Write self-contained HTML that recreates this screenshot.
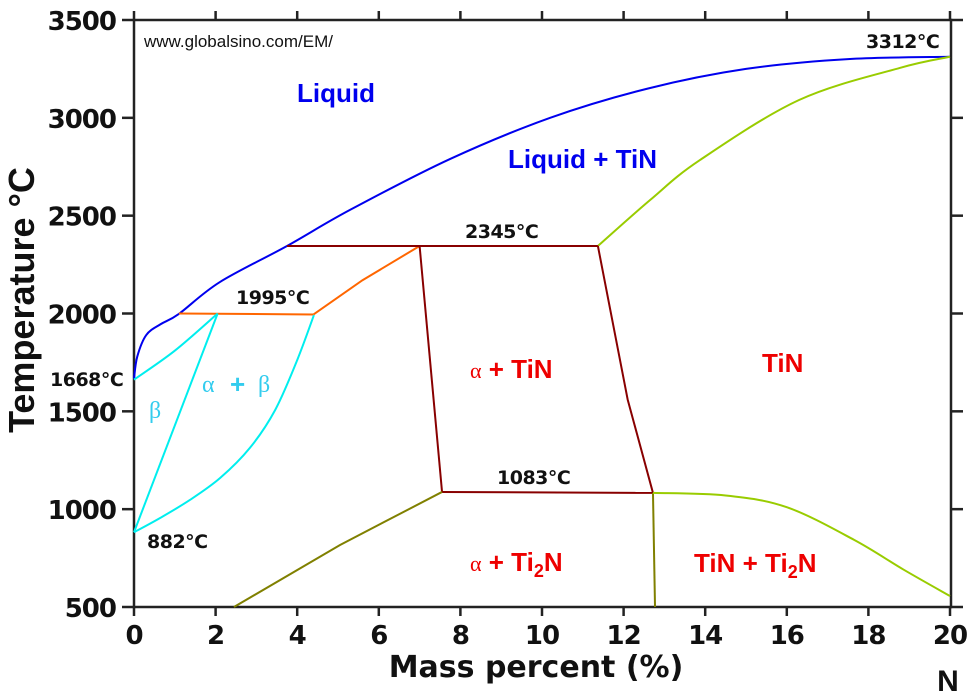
<!DOCTYPE html>
<html><head><meta charset="utf-8"><style>
body{margin:0;background:#fff}
svg{display:block}
.tk{font:bold 26px "DejaVu Sans",sans-serif;fill:#111;letter-spacing:-1px}
.an{font:bold 19px "DejaVu Sans",sans-serif;fill:#111;letter-spacing:-0.5px}
.rg{font:bold 26px "Liberation Sans",sans-serif}
</style></head><body>
<svg id="c" width="974" height="700" viewBox="0 0 974 700" xmlns="http://www.w3.org/2000/svg">
<g id="grid"></g>
<g id="curves"></g>
<text x="144" y="47" font-family="Liberation Sans,sans-serif" font-size="17" fill="#111">www.globalsino.com/EM/</text>
<text class="rg" x="297" y="102" fill="#0000ee">Liquid</text>
<text class="rg" x="508" y="168" fill="#0000ee">Liquid + TiN</text>
<text class="rg" x="762" y="372" fill="#ee0000">TiN</text>
<text class="rg" x="470" y="378" fill="#ee0000"><tspan font-family="Liberation Serif,serif" font-weight="normal" font-size="22">α</tspan>  + TiN</text>
<text class="rg" x="470" y="571" fill="#ee0000"><tspan font-family="Liberation Serif,serif" font-weight="normal" font-size="22">α</tspan>  + Ti<tspan font-size="18" dy="6">2</tspan><tspan dy="-6">N</tspan></text>
<text class="rg" x="694" y="572" fill="#ee0000">TiN + Ti<tspan font-size="18" dy="6">2</tspan><tspan dy="-6">N</tspan></text>
<text x="149" y="418" font-family="Liberation Serif,serif" font-size="24" fill="#33ccee">β</text>
<g fill="#33ccee">
<text x="202" y="392" font-family="Liberation Serif,serif" font-size="24">α</text>
<text x="230" y="393" font-family="Liberation Sans,sans-serif" font-weight="bold" font-size="26">+</text>
<text x="258" y="392" font-family="Liberation Serif,serif" font-size="24">β</text>
</g>
<text class="an" x="866" y="48">3312°C</text>
<text class="an" x="465" y="238">2345°C</text>
<text class="an" x="236" y="304">1995°C</text>
<text class="an" x="50" y="386">1668°C</text>
<text class="an" x="147" y="548">882°C</text>
<text class="an" x="497" y="484">1083°C</text>
<text x="536" y="677" text-anchor="middle" font-family="DejaVu Sans,sans-serif" font-weight="bold" font-size="30" fill="#111">Mass percent (%)</text>
<text x="948" y="691" text-anchor="middle" font-family="Liberation Sans,sans-serif" font-weight="bold" font-size="30" fill="#111">N</text>
<text transform="translate(34,300) rotate(-90)" text-anchor="middle" font-family="Liberation Sans,sans-serif" font-weight="bold" font-size="36" fill="#111">Temperature °C</text>
</svg>
<script>
const xTicks=[0,2,4,6,8,10,12,14,16,18,20];
const yTicks=[500,1000,1500,2000,2500,3000,3500];
const liquidus=[[0,1668],[0.08,1780],[0.3,1890],[0.65,1945],[1.1,1998],[2.1,2160],[3.75,2345],[5.3,2530],[7.75,2790],[10.2,3000],[12.6,3150],[15,3250],[17.5,3300],[20,3312]];
const tinLiquidus=[[11.37,2345],[12.65,2580],[13.87,2784],[16.3,3091],[18.77,3255],[20,3312]];
const peritectic1995=[[1.1,2000],[4.4,1995]];
const orangeBound=[[4.4,1995],[5.6,2170],[7.0,2345]];
const peritectic2345=[[3.75,2345],[11.37,2345]];
const alphaTinLeft=[[7.0,2345],[7.55,1088]];
const line1083=[[7.55,1088],[12.72,1083]];
const tinLeft=[[11.37,2345],[12.1,1560],[12.72,1083]];
const betaSolidus=[[0,1662],[1.0,1810],[2.05,2000]];
const betaTransus=[[0,882],[2.05,2000]];
const alphaBetaBound=[[0,882],[0.64,955],[1.37,1047],[2.11,1159],[2.84,1313],[3.46,1507],[4.0,1762],[4.41,1992]];
const ti2nLeft=[[2.45,500],[5.05,817],[7.55,1088]];
const ti2nRight=[[12.72,1083],[12.77,500]];
const tinTi2n=[[12.72,1083],[14.5,1070],[16,1010],[17.65,843],[18.87,690],[20,556]];
const X=v=>134+v*40.8;
const Y=t=>607-(t-500)*(587/3000);
const NS='http://www.w3.org/2000/svg';
function mk(tag,attrs,parent){const e=document.createElementNS(NS,tag);for(const k in attrs)e.setAttribute(k,attrs[k]);parent.appendChild(e);return e;}
const g=document.getElementById('grid');
const frame=mk('rect',{x:134,y:20,width:817,height:587,fill:'none',stroke:'#222','stroke-width':2.5},g);


xTicks.forEach(v=>{
 const b=mk('line',{x1:X(v),x2:X(v),y1:607,y2:616,stroke:'#222','stroke-width':2.5},g);
 
 
 const t=mk('line',{x1:X(v),x2:X(v),y1:20,y2:11,stroke:'#222','stroke-width':2.5},g);
 
 
 const l=mk('text',{x:X(v),y:644,'text-anchor':'middle',class:'tk'},g);
 l.textContent=v;
 
 
});
yTicks.forEach(v=>{
 const a=mk('line',{x1:122,x2:134,y1:Y(v),y2:Y(v),stroke:'#222','stroke-width':2.5},g);
 
 
 const r=mk('line',{x1:951,x2:963,y1:Y(v),y2:Y(v),stroke:'#222','stroke-width':2.5},g);
 
 
 const l=mk('text',{x:116,y:Y(v)+10,'text-anchor':'end',class:'tk'},g);
 l.textContent=v;
 
 
});
const cg=document.getElementById('curves');
function draw(pts,color,name,smooth){
 let d='M'+X(pts[0][0])+','+Y(pts[0][1]);
 if(smooth&&pts.length>2){
  for(let i=0;i<pts.length-1;i++){
   const p0=pts[Math.max(0,i-1)],p1=pts[i],p2=pts[i+1],p3=pts[Math.min(pts.length-1,i+2)];
   const c1x=X(p1[0])+(X(p2[0])-X(p0[0]))/6,c1y=Y(p1[1])+(Y(p2[1])-Y(p0[1]))/6;
   const c2x=X(p2[0])-(X(p3[0])-X(p1[0]))/6,c2y=Y(p2[1])-(Y(p3[1])-Y(p1[1]))/6;
   d+=' C'+c1x+','+c1y+' '+c2x+','+c2y+' '+X(p2[0])+','+Y(p2[1]);
  }
 } else pts.slice(1).forEach(p=>d+=' L'+X(p[0])+','+Y(p[1]));
 const e=mk('path',{d:d,fill:'none',stroke:color,'stroke-width':2},cg);
 
 
}
draw(liquidus,'#0000ee','liquidus-line',true);
draw(tinLiquidus,'#99cc00','tin-liquidus-line',true);
draw(peritectic1995,'#ff6600','peritectic-1995-line',false);
draw(orangeBound,'#ff6600','beta-liquid-boundary',false);
draw(peritectic2345,'#880000','peritectic-2345-line',false);
draw(alphaTinLeft,'#880000','alpha-tin-left-boundary',false);
draw(line1083,'#880000','line-1083',false);
draw(tinLeft,'#880000','tin-left-boundary',false);
draw(betaSolidus,'#00eeee','beta-solidus',true);
draw(betaTransus,'#00eeee','beta-transus',false);
draw(alphaBetaBound,'#00eeee','alpha-beta-boundary',true);
draw(ti2nLeft,'#808000','ti2n-left-boundary',false);
draw(ti2nRight,'#808000','ti2n-right-boundary',false);
draw(tinTi2n,'#99cc00','tin-ti2n-boundary',true);
</script>
</body></html>
